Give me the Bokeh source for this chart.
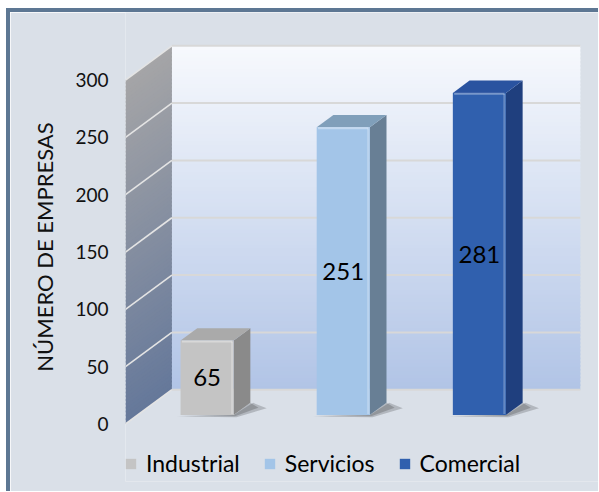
import numpy as np
from bokeh.plotting import figure
from bokeh.models import Range1d, FixedTicker, ColumnDataSource
from bokeh.core.properties import value
from bokeh.embed import file_html
from bokeh.resources import INLINE

# ---- data ----
categories = ["Industrial", "Servicios", "Comercial"]
values = [65, 251, 281]
y_ticks = [0, 50, 100, 150, 200, 250, 300]
axis_title = "NÚMERO DE EMPRESAS"

# ---- styles ----
front_colors = ["#c4c4c4", "#a3c5e8", "#3060ae"]
top_colors = ["#aaaaaa", "#809fba", "#2a53a0"]
side_colors = ["#8a8a8a", "#687f95", "#1f3f7e"]
BG = "#dae0e8"
FONT = "Lato"

# ---- 3D geometry (data units) ----
PX_X = 135.0        # pixels per x unit
PX_Y = 341.0 / 300  # pixels per value unit
DX, DY = 46 / PX_X, 34 / PX_Y      # depth of the box
X_LEFT = -82 / PX_X                # front edge of side wall
X_RIGHT = 369 / PX_X               # right end of back wall (back plane)
Y_TOP = max(y_ticks)
F = 0.26    # depth fraction of bar front face
B = 0.36    # depth fraction of bar thickness
W = 0.39    # bar width

W_PX, H_PX = 588, 479
LEFT_PX = 115
BOTTOM_PX = 14
frame_w = W_PX - LEFT_PX
frame_h = H_PX - BOTTOM_PX
y_end = 408 / PX_Y
y_start = y_end - frame_h / PX_Y
x_start = X_LEFT
x_end = X_LEFT + frame_w / PX_X

p = figure(width=W_PX, height=H_PX, output_backend="svg", toolbar_location=None,
           x_range=Range1d(x_start, x_end), y_range=Range1d(y_start, y_end),
           x_axis_type=None, min_border_left=LEFT_PX, min_border_right=0,
           min_border_top=0, min_border_bottom=BOTTOM_PX)
p.background_fill_color = BG
p.border_fill_color = BG
p.outline_line_color = None
p.ygrid.visible = False
p.styles = {"box-sizing": "content-box",
            "border-top": "4px solid #5d7793", "border-left": "4px solid #5d7793",
            "margin-top": "8px", "margin-left": "6px"}


def lerp(c0, c1, t):
    a = np.array([int(c0[i:i + 2], 16) for i in (1, 3, 5)], float)
    b = np.array([int(c1[i:i + 2], 16) for i in (1, 3, 5)], float)
    c = a + (b - a) * t
    return "#%02x%02x%02x" % tuple(int(round(v)) for v in c)


# back wall gradient
N = 90
edges = np.linspace(0, Y_TOP, N + 1)
over = 1.5
p.quad(left=X_LEFT + DX, right=X_RIGHT, bottom=edges[:-1] + DY,
       top=np.minimum(edges[1:] + over, Y_TOP) + DY,
       fill_color=[lerp("#b1c4e6", "#f7f9fd", (e + 0.5 * Y_TOP / N) / Y_TOP) for e in edges[:-1]],
       line_color=None)

# side wall gradient
xs, ys, cols = [], [], []
for k in range(N):
    v0, v1 = edges[k], min(edges[k + 1] + over, Y_TOP)
    xs.append([X_LEFT, X_LEFT + DX, X_LEFT + DX, X_LEFT])
    ys.append([v0, v0 + DY, v1 + DY, v1])
    cols.append(lerp("#65789a", "#a5a5a7", (edges[k] + 0.5 * Y_TOP / N) / Y_TOP))
p.patches(xs=xs, ys=ys, fill_color=cols, line_color=None)

# grid lines
t = np.array(y_ticks, float)
p.segment(x0=X_LEFT + DX, x1=X_RIGHT, y0=t + DY, y1=t + DY, line_color="#d8d8d8", line_width=2)
p.segment(x0=X_LEFT, x1=X_LEFT + DX, y0=t, y1=t + DY, line_color="#e4e4e4", line_width=1.6)

# bars
idx = np.arange(len(values), dtype=float) - 0.008
vals = np.array(values, float)
yb = F * DY
xl = idx - W / 2
xr = idx + W / 2
yt = yb + vals
bdx, bdy = B * DX, B * DY

# shadows
sh_x, sh_y = [], []
for i in range(len(values)):
    sh_x.append([xl[i] - 0.03, xr[i] + 0.02, xr[i] + bdx + 0.12, xr[i] + bdx + 0.02, xr[i]])
    sh_y.append([yb - 1.2, yb - 1.8, yb + bdy * 0.55, yb + bdy, yb])
p.patches(xs=sh_x, ys=sh_y, fill_color="#000000", fill_alpha=0.18, line_color=None)
sh_x2 = [[xl[i] - 0.01, xr[i] + 0.01, xr[i] + bdx + 0.06, xr[i] + bdx, xr[i]] for i in range(len(values))]
sh_y2 = [[yb - 0.6, yb - 1.0, yb + bdy * 0.6, yb + bdy, yb] for i in range(len(values))]
p.patches(xs=sh_x2, ys=sh_y2, fill_color="#000000", fill_alpha=0.18, line_color=None)

# side faces
p.patches(xs=[[xr[i], xr[i] + bdx, xr[i] + bdx, xr[i]] for i in range(len(values))],
          ys=[[yb, yb + bdy, yt[i] + bdy, yt[i]] for i in range(len(values))],
          fill_color=side_colors, line_color=None)
# top faces
p.patches(xs=[[xl[i], xr[i], xr[i] + bdx, xl[i] + bdx] for i in range(len(values))],
          ys=[[yt[i], yt[i], yt[i] + bdy, yt[i] + bdy] for i in range(len(values))],
          fill_color=top_colors, line_color=None)

# front faces (with legend)
src = ColumnDataSource(dict(l=xl, r=xr, b=[yb] * len(values), t=yt,
                            color=front_colors, cat=categories))
p.quad(left="l", right="r", bottom="b", top="t", fill_color="color", line_color=None,
       source=src, legend_field="cat")
# soft highlight on front face edges
p.segment(x0=xl + 0.01, x1=xr - 0.01, y0=yt - 0.8, y1=yt - 0.8, line_color="#ffffff",
          line_alpha=0.35, line_width=2)
p.segment(x0=xr - 0.012, x1=xr - 0.012, y0=[yb + 1] * len(values), y1=yt - 1,
          line_color="#ffffff", line_alpha=0.25, line_width=2)

# value labels
p.text(x=idx, y=yb + vals / 2, text=[str(v) for v in values], text_align="center",
       text_baseline="middle", text_font=value(FONT), text_font_size="24px",
       text_color="#000000")

# axis
ax = p.yaxis[0]
ax.ticker = FixedTicker(ticks=y_ticks)
ax.axis_line_color = None
ax.major_tick_line_color = None
ax.minor_tick_line_color = None
ax.major_label_standoff = 11
ax.major_label_text_font = FONT
ax.major_label_text_font_size = "19px"
ax.major_label_text_color = "#111111"
ax.axis_label = axis_title
ax.axis_label_text_font = FONT
ax.axis_label_text_font_size = "22px"
ax.axis_label_text_font_style = "normal"
ax.axis_label_text_color = "#111111"
ax.axis_label_standoff = 14

# legend
lg = p.legend[0]
lg.orientation = "horizontal"
lg.location = (-1, 4)
lg.background_fill_alpha = 0
lg.border_line_color = None
lg.label_text_font = FONT
lg.label_text_font_size = "23px"
lg.label_text_color = "#000000"
lg.glyph_width = 13
lg.glyph_height = 13
lg.label_standoff = 9
lg.spacing = 23
lg.padding = 0
lg.margin = 0

open("out.html", "w").write(file_html(p, INLINE))
